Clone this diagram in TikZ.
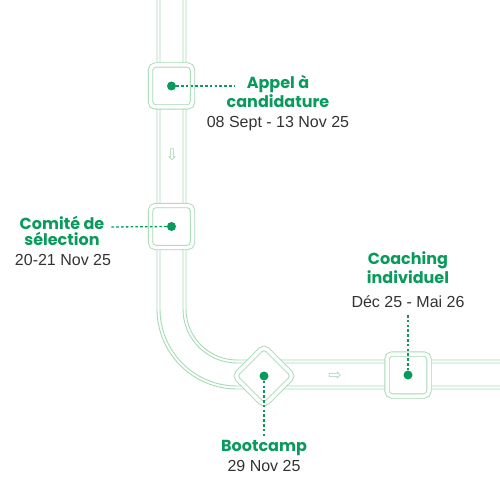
\documentclass[tikz,border=0pt]{standalone}
\usepackage{fontspec}
\setmainfont{Liberation Sans}
\newfontfamily\headfont{Poppins}
\newfontfamily\symfont{DejaVu Sans}
\usetikzlibrary{positioning}
\definecolor{tlgreen}{HTML}{0A9A5C}
\definecolor{tlpale}{HTML}{A3DBB4}
\definecolor{tlgray}{HTML}{333333}

\begin{document}
\begin{tikzpicture}[x=1pt,y=-1pt,
      rail/.style={draw=tlpale,line width=0.9pt},
      stop/.style={draw=tlpale,fill=white,line width=0.9pt,double=white,double distance=3.5pt,rounded corners=5pt,minimum size=42pt,inner sep=0pt},
      dot/.style={circle,fill=tlgreen,minimum size=9pt,inner sep=0pt},
      lead/.style={draw=tlgreen,line width=1.3pt,dash pattern=on 2.6pt off 2.2pt},
      title/.style={font=\headfont\bfseries\fontsize{16}{16}\selectfont,text=tlgreen,align=center,inner sep=0pt,anchor=base},
      date/.style={font=\fontsize{16}{18}\selectfont,text=tlgray,inner sep=0pt,anchor=base},
      hint/.style={font=\symfont\fontsize{16}{16}\selectfont,text=tlpale,inner sep=0pt}]
    \useasboundingbox (0,0) rectangle (500,500);
    \draw[rail,rounded corners=80pt] (157,0) -- (157,389) -- (500,389);
    \draw[rail,rounded corners=77pt] (160,0) -- (160,386) -- (500,386);
    \draw[rail,rounded corners=54pt] (183,0) -- (183,363) -- (500,363);
    \draw[rail,rounded corners=51pt] (186,0) -- (186,360) -- (500,360);
    \node[hint] (downhint) at (172,155) {⇩};
    \node[hint] (righthint) at (335,376) {⇨};

    \node[stop] (appel) at (171.5,86) {};
    \node[stop] (comite) at (171.5,226.5) {};
    \node[stop,rotate=45] (bootcamp) at (264,376) {};
    \node[stop] (coaching) at (408,375) {};
    \node[dot] (appeldot) at (appel) {};
    \node[dot] (comitedot) at (comite) {};
    \node[dot] (bootcampdot) at (bootcamp) {};
    \node[dot] (coachingdot) at (coaching) {};

    \node[title] (appeltitle) at (278,107) {Appel à\\candidature};
    \node[date] (appeldate) at (278,128) {08 Sept - 13 Nov 25};
    \node[title] (comitetitle) at (62,245) {Comité de\\sélection};
    \node[date] (comitedate) at (63,265) {20-21 Nov 25};
    \node[title] (bootcamptitle) at (264,451) {Bootcamp};
    \node[date] (bootcampdate) at (264,471) {29 Nov 25};
    \node[title] (coachingtitle) at (408,283) {Coaching\\individuel};
    \node[date] (coachingdate) at (408,307) {Déc 25 - Mai 26};

    \coordinate (appelend) at (235,86);
    \coordinate (comiteend) at (110,227);
    \coordinate (bootcampend) at (264,437);
    \coordinate (coachingend) at (408,313);
    \draw[lead] (appeldot) -- (appelend);
    \draw[lead] (comitedot) -- (comiteend);
    \draw[lead] (bootcampdot) -- (bootcampend);
    \draw[lead] (coachingdot) -- (coachingend);
  \end{tikzpicture}
\end{document}
